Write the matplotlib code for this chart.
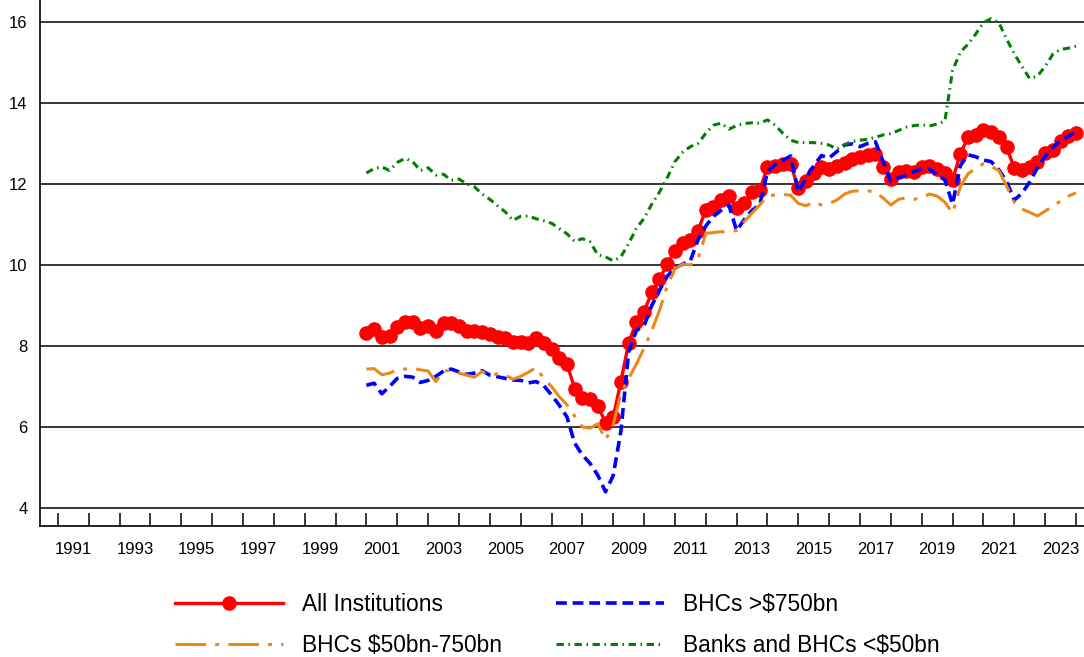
import numpy as np
import pandas as pd
import matplotlib
matplotlib.use("Agg")
import matplotlib.pyplot as plt

plt.rcParams["font.family"] = ["Liberation Sans", "DejaVu Sans"]

# quarterly data, 2000Q4 .. 2023Q4
quarters = pd.period_range("2000Q4", "2023Q4", freq="Q")

all_inst = [8.33, 8.41, 8.23, 8.25, 8.48, 8.58, 8.60, 8.44, 8.50, 8.37,
            8.56, 8.56, 8.49, 8.37, 8.37, 8.35, 8.30, 8.21, 8.19, 8.11,
            8.11, 8.08, 8.19, 8.07, 7.92, 7.70, 7.56, 6.95, 6.72, 6.68,
            6.52, 6.11, 6.25, 7.12, 8.08, 8.58, 8.85, 9.32, 9.65, 10.02,
            10.35, 10.55, 10.62, 10.85, 11.36, 11.44, 11.61, 11.69, 11.41, 11.54,
            11.79, 11.85, 12.41, 12.44, 12.49, 12.49, 11.89, 12.06, 12.26, 12.41,
            12.36, 12.44, 12.52, 12.61, 12.67, 12.71, 12.74, 12.43, 12.12, 12.30,
            12.33, 12.30, 12.41, 12.45, 12.36, 12.28, 12.10, 12.74, 13.15, 13.21,
            13.32, 13.29, 13.15, 12.91, 12.39, 12.35, 12.41, 12.55, 12.77, 12.84,
            13.07, 13.19, 13.25]

bhc_large = [7.03, 7.08, 6.82, 7.00, 7.20, 7.25, 7.23, 7.10, 7.15, 7.25,
             7.38, 7.43, 7.36, 7.30, 7.33, 7.39, 7.28, 7.24, 7.20, 7.16,
             7.15, 7.09, 7.12, 7.02, 6.79, 6.54, 6.25, 5.60, 5.31, 5.10,
             4.81, 4.40, 4.80, 5.90, 7.85, 8.38, 8.50, 9.00, 9.37, 9.72,
             9.92, 10.02, 10.10, 10.62, 10.96, 11.20, 11.35, 11.48, 10.85, 11.12,
             11.35, 11.48, 12.30, 12.48, 12.58, 12.69, 11.80, 12.15, 12.45, 12.70,
             12.64, 12.80, 12.96, 12.99, 12.92, 13.00, 13.04, 12.55, 12.06, 12.15,
             12.22, 12.30, 12.37, 12.38, 12.22, 12.10, 11.50, 12.45, 12.72, 12.67,
             12.59, 12.55, 12.35, 12.06, 11.60, 11.77, 12.05, 12.40, 12.68, 12.90,
             13.07, 13.18, 13.27]

bhc_mid = [7.43, 7.44, 7.29, 7.33, 7.41, 7.43, 7.45, 7.41, 7.38, 7.12,
           7.38, 7.40, 7.33, 7.28, 7.23, 7.37, 7.28, 7.31, 7.28, 7.18,
           7.25, 7.35, 7.47, 7.20, 7.00, 6.75, 6.55, 6.27, 6.00, 5.97,
           6.08, 5.68, 6.05, 6.83, 7.20, 7.55, 7.95, 8.38, 8.88, 9.48,
           9.90, 10.02, 10.00, 10.15, 10.78, 10.80, 10.82, 10.82, 10.85, 11.07,
           11.28, 11.48, 11.70, 11.73, 11.74, 11.72, 11.52, 11.46, 11.56, 11.48,
           11.52, 11.60, 11.75, 11.82, 11.83, 11.83, 11.80, 11.65, 11.48, 11.62,
           11.66, 11.62, 11.66, 11.75, 11.70, 11.55, 11.28, 11.93, 12.25, 12.38,
           12.50, 12.43, 12.33, 11.95, 11.55, 11.38, 11.30, 11.21, 11.33, 11.45,
           11.58, 11.70, 11.78]

small_banks = [12.27, 12.38, 12.42, 12.33, 12.53, 12.63, 12.55, 12.33, 12.40, 12.22,
               12.24, 12.09, 12.12, 12.00, 11.93, 11.75, 11.62, 11.46, 11.31, 11.10,
               11.20, 11.21, 11.14, 11.09, 11.03, 10.90, 10.77, 10.58, 10.65, 10.57,
               10.25, 10.20, 10.10, 10.20, 10.53, 10.90, 11.15, 11.50, 11.80, 12.15,
               12.55, 12.78, 12.92, 13.00, 13.25, 13.45, 13.50, 13.35, 13.44, 13.49,
               13.51, 13.50, 13.58, 13.45, 13.25, 13.08, 13.02, 13.02, 13.02, 13.00,
               12.96, 12.86, 12.97, 13.05, 13.08, 13.10, 13.15, 13.21, 13.24, 13.32,
               13.40, 13.44, 13.46, 13.43, 13.48, 13.55, 14.80, 15.25, 15.45, 15.70,
               15.98, 16.08, 15.98, 15.58, 15.21, 14.90, 14.60, 14.66, 14.90, 15.20,
               15.32, 15.35, 15.40]

labels = ["All Institutions", "BHCs >$750bn", "BHCs $50bn-750bn", "Banks and BHCs <$50bn"]
label_years = list(range(1991, 2024, 2))

# position each quarter at its end
x = np.array([q.year + q.quarter / 4 for q in quarters])

fig = plt.figure(figsize=(10.84, 6.57), dpi=100)
ax = fig.add_axes([40 / 1084, 131 / 657, 1044 / 1084, 526 / 657])

l_all, = ax.plot(x, all_inst, color="#ff0000", lw=2.4, marker="o", ms=9.5, zorder=3)
l_large, = ax.plot(x, bhc_large, color="#0000ff", lw=2.6, ls=(0, (3.0, 1.6)), zorder=4)
l_mid, = ax.plot(x, bhc_mid, color="#e8891a", lw=2.2, ls=(0, (10, 3.0, 1.3, 3.0)), zorder=5)
l_small, = ax.plot(x, small_banks, color="#008000", lw=2.2, ls=(0, (2.4, 1.5, 0.5, 1.5)), zorder=6)

ax.set_xlim(1990.42, 2024.26)
ax.set_ylim(3.556, 16.54)
ax.set_yticks(range(4, 17, 2))
ax.yaxis.grid(True, color="black", lw=1.1)
ax.set_axisbelow(True)
ax.tick_params(axis="y", length=0, pad=9, labelsize=12)

ax.set_xticks(range(1991, 2025))
ax.set_xticklabels([])
ax.set_xticks([y + 0.5 for y in label_years], minor=True)
ax.set_xticklabels([str(y) for y in label_years], minor=True)
ax.tick_params(axis="x", which="major", direction="in", length=9.5, width=1.1)
ax.tick_params(axis="x", which="minor", length=0, pad=11.5, labelsize=12)

for s in ["top", "right"]:
    ax.spines[s].set_visible(False)
for s in ["left", "bottom"]:
    ax.spines[s].set_linewidth(1.2)

fig.legend([l_all, l_mid, l_large, l_small],
           [labels[0], labels[2], labels[1], labels[3]],
           ncol=2, frameon=False, loc="upper left",
           bbox_to_anchor=(175 / 1084, 1 - 593 / 657), borderpad=0, borderaxespad=0,
           fontsize=16.4, handlelength=4.74, handletextpad=0.83, columnspacing=2.37,
           labelspacing=0.78, numpoints=1)

fig.savefig("out.png", dpi=100)
